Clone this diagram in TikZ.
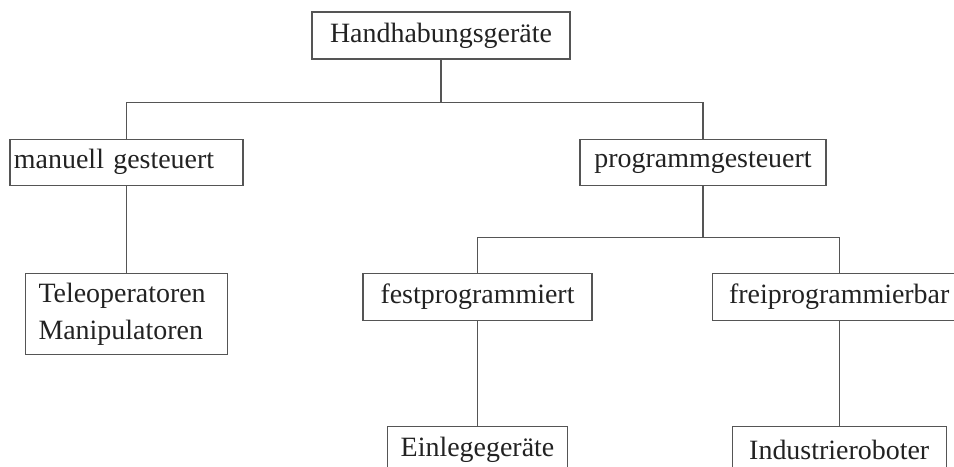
\documentclass[tikz,border=0pt]{standalone}
\usepackage{fontspec}
\setmainfont{Liberation Serif}
\usetikzlibrary{positioning}
\definecolor{frame}{RGB}{85, 85, 85}
\definecolor{ink}{RGB}{34, 34, 34}

\begin{document}
\begin{tikzpicture}[
    cls/.style={rectangle, draw=frame, line width=0.7pt, fill=white, text=ink,
                inner sep=0pt, minimum height=0.94cm, align=center,
                font=\fontsize{15.9pt}{20.9pt}\selectfont},
    link/.style={draw=frame, line width=0.7pt}
]
\useasboundingbox (0,0) rectangle (19.08,-9.32);
\clip (0,0) rectangle (19.08,-9.32);

% Root
\node[cls, minimum width=5.16cm] (hg) at (8.82,-0.71) {Handhabungsger\"ate};

% First level
\node[cls, minimum width=4.66cm, minimum height=0.92cm, text width=4.50cm, align=left,
      inner xsep=0.08cm, below=1.58cm of hg, xshift=-6.29cm] (manuell) {manuell gesteuert};
\node[cls, minimum width=4.92cm, minimum height=0.92cm,
      below=1.58cm of hg, xshift=5.24cm] (programm) {programmgesteuert};

% Second level
\node[cls, minimum height=1.62cm, text width=3.52cm, align=left, inner xsep=0.26cm,
      below=1.74cm of manuell] (teleop) {Teleoperatoren\\Manipulatoren};
\node[cls, minimum width=4.58cm, below=1.74cm of programm, xshift=-4.51cm] (fest) {festprogrammiert};
\node[cls, minimum width=5.08cm, right=2.38cm of fest] (frei) {freiprogrammierbar};

% Third level
\node[cls, minimum width=3.60cm, below=2.10cm of fest] (einlege) {Einlegeger\"ate};
\node[cls, minimum width=4.28cm, below=2.10cm of frei] (robot) {Industrieroboter};

% Connectors
\draw[link] (hg.south) -- ++(0,-0.86) coordinate (fork1);
\draw[link] (manuell.north) |- (fork1) -| (programm.north);
\draw[link] (manuell.south) -- (teleop.north);
\draw[link] (programm.south) -- ++(0,-1.04) coordinate (fork2);
\draw[link] (fest.north) |- (fork2) -| (frei.north);
\draw[link] (fest.south) -- (einlege.north);
\draw[link] (frei.south) -- (robot.north);
\end{tikzpicture}
\end{document}
